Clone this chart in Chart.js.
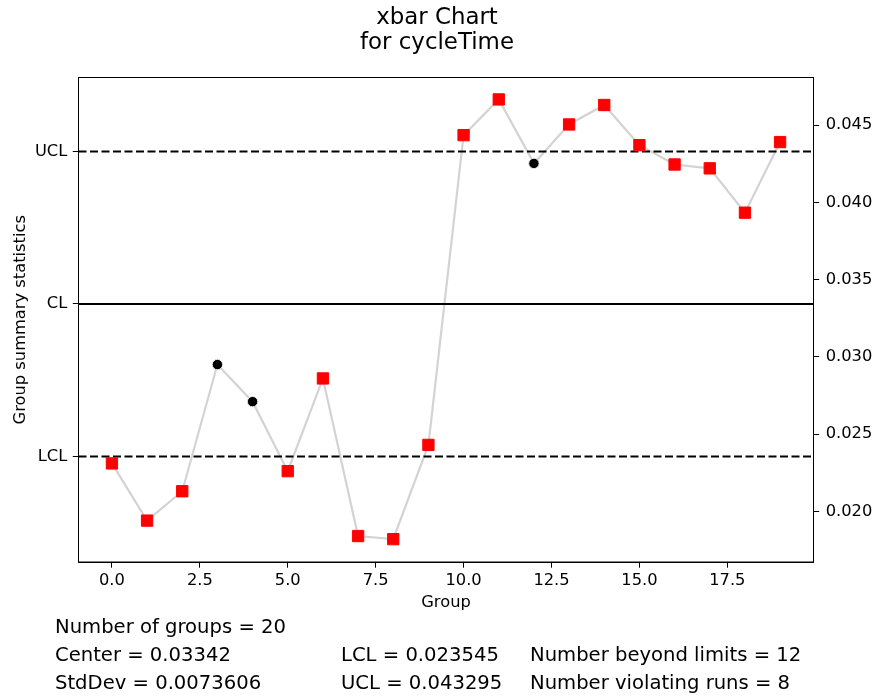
<!DOCTYPE html>
<html>
<head>
<meta charset="utf-8">
<script src="https://cdn.jsdelivr.net/npm/chart.js@4"></script>
<style>
  body { margin: 0; background: #fff; }
  canvas { display: block; }
</style>
</head>
<body>
<canvas id="xbarchart" width="877" height="698"></canvas>
<script>
const groups = [0, 1, 2, 3, 4, 5, 6, 7, 8, 9, 10, 11, 12, 13, 14, 15, 16, 17, 18, 19];
const xbar = [0.0231, 0.0194, 0.0213, 0.0295, 0.0271, 0.0226, 0.0286, 0.0184, 0.0182, 0.0243,
              0.04435, 0.04666, 0.04252, 0.04504, 0.0463, 0.0437, 0.04245, 0.0422, 0.03933, 0.0439];
// 1 = beyond limits or violating runs (red square), 0 = ok (black dot)
const flagged = [1, 1, 1, 0, 0, 1, 1, 1, 1, 1, 1, 1, 0, 1, 1, 1, 1, 1, 1, 1];

const center = 0.03342;
const lcl = 0.023545;
const ucl = 0.043295;

const xLimits = [-0.95, 19.95];
const yLimits = [0.01672, 0.04808];
const xTicks = [0, 2.5, 5, 7.5, 10, 12.5, 15, 17.5];
const yTicks = [0.020, 0.025, 0.030, 0.035, 0.040, 0.045];
const limitTicks = [lcl, center, ucl];
const limitLabels = ['LCL', 'CL', 'UCL'];

const titleLines = ['xbar Chart', 'for cycleTime'];
const statsCol1 = ['Number of groups = 20', 'Center = 0.03342', 'StdDev = 0.0073606'];
const statsCol2 = ['', 'LCL = 0.023545', 'UCL = 0.043295'];
const statsCol3 = ['', 'Number beyond limits = 12', 'Number violating runs = 8'];

const FONT = '"DejaVu Sans", sans-serif';

function hline(v) {
    return [{ x: xLimits[0], y: v }, { x: xLimits[1], y: v }];
}

const points = groups.map((g, i) => ({ x: g, y: xbar[i] }));

const textPlugin = {
    id: 'texts',
    afterDraw(chart) {
        const ctx = chart.ctx;
        const a = chart.chartArea;
        ctx.save();
        // frame
        ctx.strokeStyle = '#000';
        ctx.lineWidth = 1;
        ctx.strokeRect(a.left, a.top, a.right - a.left, a.bottom - a.top);

        ctx.fillStyle = '#000';
        ctx.textBaseline = 'alphabetic';
        // title
        ctx.font = '22.9px ' + FONT;
        ctx.textAlign = 'center';
        ctx.fillText(titleLines[0], 437, 24);
        ctx.fillText(titleLines[1], 437, 49);

        // axis titles
        ctx.font = '16.3px ' + FONT;
        ctx.fillText('Group', (a.left + a.right) / 2, 607);
        ctx.save();
        ctx.translate(25, (a.top + a.bottom) / 2);
        ctx.rotate(-Math.PI / 2);
        ctx.fillText('Group summary statistics', 0, 0);
        ctx.restore();

        // stats
        ctx.font = '19.6px ' + FONT;
        ctx.textAlign = 'left';
        const rows = [633, 661, 689];
        rows.forEach((y, i) => {
            ctx.fillText(statsCol1[i], 55, y);
            ctx.fillText(statsCol2[i], 341, y);
            ctx.fillText(statsCol3[i], 530, y);
        });
        ctx.restore();
    }
};

const tickFont = { family: FONT, size: 16.3 };
const axisGrid = { drawOnChartArea: false, drawTicks: true, tickLength: 5.7, tickWidth: 1, color: '#000' };
const axisBorder = { display: true, color: '#000', width: 1 };
const dash = [8, 3.5];

new Chart(document.getElementById('xbarchart'), {
    type: 'line',
    data: {
        datasets: [
            {
                label: 'points',
                data: points,
                showLine: false,
                pointStyle: flagged.map(f => f ? 'rect' : 'circle'),
                pointRadius: flagged.map(f => f ? 8 : 5.2),
                pointBackgroundColor: flagged.map(f => f ? '#ff0000' : '#000000'),
                pointBorderColor: flagged.map(f => f ? '#ff0000' : '#e8e8e8'),
                pointBorderWidth: 1,
                xAxisID: 'x',
                yAxisID: 'y'
            },
            {
                label: 'UCL',
                data: hline(ucl),
                borderColor: '#000',
                borderWidth: 2,
                borderDash: dash,
                pointRadius: 0,
                xAxisID: 'x',
                yAxisID: 'y'
            },
            {
                label: 'CL',
                data: hline(center),
                borderColor: '#000',
                borderWidth: 2,
                pointRadius: 0,
                xAxisID: 'x',
                yAxisID: 'y'
            },
            {
                label: 'LCL',
                data: hline(lcl),
                borderColor: '#000',
                borderWidth: 2,
                borderDash: dash,
                pointRadius: 0,
                xAxisID: 'x',
                yAxisID: 'y'
            },
            {
                label: 'line',
                data: points,
                borderColor: '#d3d3d3',
                borderWidth: 2.2,
                pointRadius: 0,
                tension: 0,
                xAxisID: 'x',
                yAxisID: 'y'
            }
        ]
    },
    options: {
        responsive: false,
        animation: false,
        layout: { padding: { top: 77.5, left: 0, right: 0, bottom: 0 } },
        plugins: {
            legend: { display: false },
            tooltip: { enabled: false }
        },
        scales: {
            x: {
                type: 'linear',
                position: 'bottom',
                min: xLimits[0],
                max: xLimits[1],
                afterBuildTicks: s => { s.ticks = xTicks.map(v => ({ value: v })); },
                afterFit: s => { s.height = 136; },
                ticks: {
                    font: tickFont,
                    color: '#000',
                    padding: 3.5,
                    maxRotation: 0,
                    callback: v => Number(v).toFixed(1)
                },
                grid: axisGrid,
                border: axisBorder
            },
            y: {
                type: 'linear',
                position: 'right',
                min: yLimits[0],
                max: yLimits[1],
                afterBuildTicks: s => { s.ticks = yTicks.map(v => ({ value: v })); },
                afterFit: s => { s.width = 63.5; },
                ticks: {
                    font: tickFont,
                    color: '#000',
                    padding: 6.5,
                    callback: v => Number(v).toFixed(3)
                },
                grid: axisGrid,
                border: axisBorder
            },
            y2: {
                type: 'linear',
                position: 'left',
                min: yLimits[0],
                max: yLimits[1],
                afterBuildTicks: s => { s.ticks = limitTicks.map(v => ({ value: v })); },
                afterFit: s => { s.width = 78.5; },
                ticks: {
                    font: tickFont,
                    color: '#000',
                    padding: 5.5,
                    callback: (v, i) => limitLabels[i]
                },
                grid: axisGrid,
                border: axisBorder
            }
        }
    },
    plugins: [textPlugin]
});
</script>
</body>
</html>
